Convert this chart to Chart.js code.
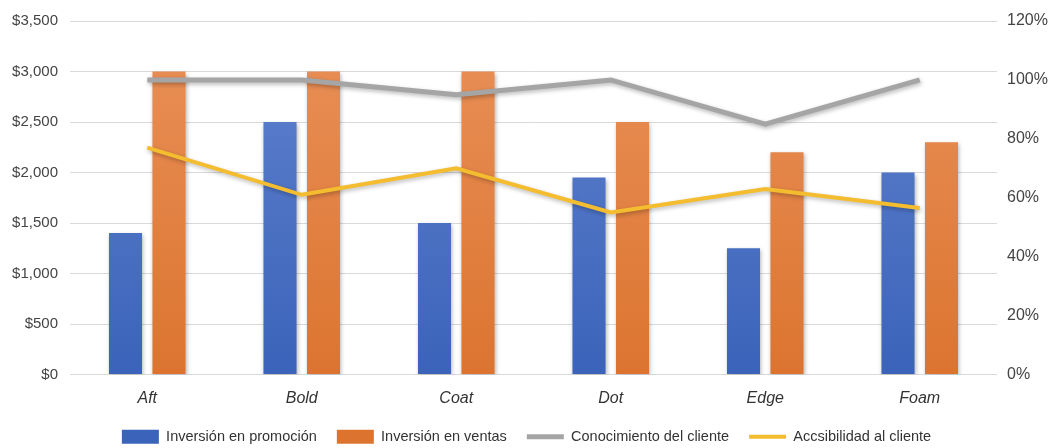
<!DOCTYPE html>
<html>
<head>
<meta charset="utf-8">
<script src="https://cdn.jsdelivr.net/npm/chart.js@4/dist/chart.umd.min.js"></script>
<style>
  html, body { margin: 0; padding: 0; background: #fff; }
  #wrap { width: 1053px; height: 448px; }
</style>
</head>
<body>
<div id="wrap"><canvas id="chart"></canvas></div>
<script>
const categories = ["Aft", "Bold", "Coat", "Dot", "Edge", "Foam"];
const promocion = [1400, 2500, 1500, 1950, 1250, 2000];
const ventas = [3000, 3000, 3000, 2500, 2200, 2300];
const conocimiento = [100, 100, 95, 100, 85, 100];
const accesibilidad = [77, 61, 70, 55, 63, 56.5];

const seriesNames = ["Inversión en promoción", "Inversión en ventas", "Conocimiento del cliente", "Accsibilidad al cliente"];

function gradient(ctx, top, bottom) {
    const area = ctx.chart.chartArea;
    if (!area) return bottom;
    const g = ctx.chart.ctx.createLinearGradient(0, area.top, 0, area.bottom);
    g.addColorStop(0, top);
    g.addColorStop(1, bottom);
    return g;
}

// soft drop shadow under bars and lines
const shadowPlugin = {
    id: "shadow",
    beforeDatasetDraw(chart) {
        const c = chart.ctx;
        c.save();
        c.shadowColor = "rgba(0,0,0,0.28)";
        c.shadowBlur = 4;
        c.shadowOffsetX = 1;
        c.shadowOffsetY = 2;
    },
    afterDatasetDraw(chart) {
        chart.ctx.restore();
    }
};

new Chart(document.getElementById("chart"), {
    type: "bar",
    data: {
        labels: categories,
        datasets: [
            {
                type: "line",
                label: seriesNames[2],
                data: conocimiento,
                yAxisID: "y2",
                borderColor: "#a5a5a5",
                backgroundColor: "#a5a5a5",
                borderWidth: 5,
                pointRadius: 0,
                pointStyle: "line",
                tension: 0,
                order: 1
            },
            {
                type: "line",
                label: seriesNames[3],
                data: accesibilidad,
                yAxisID: "y2",
                borderColor: "#f4bc2f",
                backgroundColor: "#f4bc2f",
                borderWidth: 4,
                pointRadius: 0,
                pointStyle: "line",
                tension: 0,
                order: 2
            },
            {
                label: seriesNames[0],
                data: promocion,
                yAxisID: "y",
                backgroundColor: ctx => gradient(ctx, "#6283cf", "#3a63b9"),
                pointStyle: "rect",
                categoryPercentage: 0.563,
                barPercentage: 0.76,
                order: 3
            },
            {
                label: seriesNames[1],
                data: ventas,
                yAxisID: "y",
                backgroundColor: ctx => gradient(ctx, "#e99159", "#dc7430"),
                pointStyle: "rect",
                categoryPercentage: 0.563,
                barPercentage: 0.76,
                order: 4
            }
        ]
    },
    options: {
        responsive: true,
        maintainAspectRatio: false,
        animation: false,
        layout: { padding: { top: 12, left: 0, right: 0, bottom: -6 } },
        plugins: {
            tooltip: { enabled: false },
            legend: {
                position: "bottom",
                labels: {
                    usePointStyle: true,
                    pointStyleWidth: 37,
                    boxHeight: 14,
                    padding: 20,
                    color: "#333",
                    font: { family: "Liberation Sans, sans-serif", size: 14.5 },
                    sort: (a, b) => {
                        const order = [2, 3, 0, 1];
                        return order.indexOf(a.datasetIndex) - order.indexOf(b.datasetIndex);
                    }
                }
            }
        },
        scales: {
            x: {
                grid: { display: false },
                border: { display: false },
                ticks: {
                    color: "#333",
                    padding: 6,
                    font: { family: "Liberation Sans, sans-serif", size: 16, style: "italic" }
                },
                afterFit: s => { s.height = 35; }
            },
            y: {
                position: "left",
                min: 0,
                max: 3500,
                ticks: {
                    stepSize: 500,
                    color: "#444",
                    padding: 12,
                    font: { family: "Liberation Sans, sans-serif", size: 15 },
                    callback: v => "$" + v.toLocaleString("en-US")
                },
                grid: { color: "#d9d9d9", lineWidth: 1, drawTicks: false },
                border: { display: false },
                afterFit: s => { s.width = 70; }
            },
            y2: {
                position: "right",
                min: 0,
                max: 120,
                ticks: {
                    stepSize: 20,
                    color: "#444",
                    padding: 10,
                    font: { family: "Liberation Sans, sans-serif", size: 16 },
                    callback: v => v + "%"
                },
                grid: { drawOnChartArea: false, drawTicks: false },
                border: { display: false },
                afterFit: s => { s.width = 56; }
            }
        }
    },
    plugins: [shadowPlugin]
});
</script>
</body>
</html>
